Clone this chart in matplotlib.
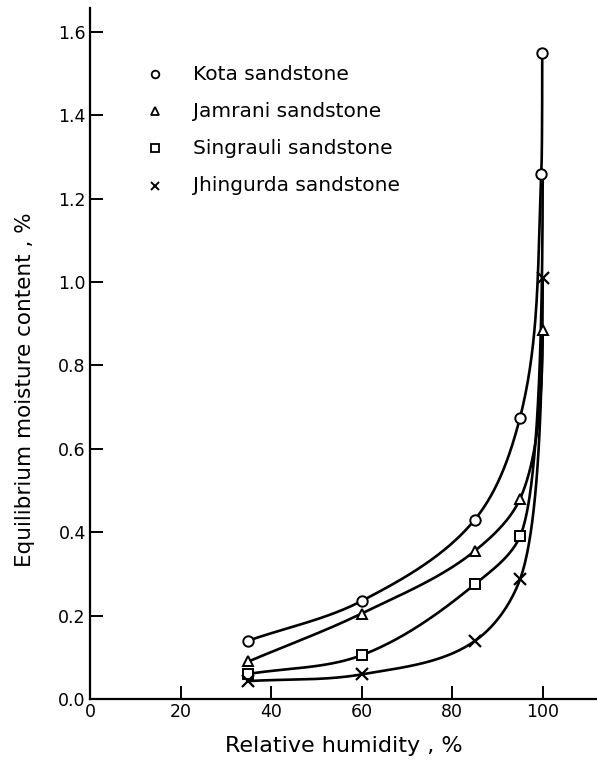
"""
Equilibrium moisture content vs relative humidity for four sandstones.
"""
import numpy as np
import matplotlib
matplotlib.use("Agg")
import matplotlib.pyplot as plt

# measured points (relative humidity %, EMC %)
kota_rh = [35, 60, 85, 95, 99.7, 99.9]
kota_emc = [0.14, 0.235, 0.43, 0.675, 1.26, 1.55]

jamrani_rh = [35, 60, 85, 95, 100]
jamrani_emc = [0.09, 0.205, 0.355, 0.48, 0.885]

singrauli_rh = [35, 60, 85, 95]
singrauli_emc = [0.06, 0.105, 0.275, 0.39]
# the singrauli curve runs on up the 100 % line without a marker
singrauli_end = (100, 1.26)

jhingurda_rh = [35, 60, 85, 95, 100]
jhingurda_emc = [0.043, 0.059, 0.139, 0.287, 1.01]

names = ["Kota sandstone", "Jamrani sandstone",
         "Singrauli sandstone", "Jhingurda sandstone"]
markers = ["o", "^", "s", "x"]

x_ticks = [0, 20, 40, 60, 80, 100]
y_ticks = [0.0, 0.2, 0.4, 0.6, 0.8, 1.0, 1.2, 1.4, 1.6]

XMAX, YMAX = 112, 1.657
W, H = 597, 762
PX, PY = 507 / XMAX, 691 / YMAX      # data -> pixel scale of the axes


def smooth(rh, emc, n=60):
    """Hand-drawn style curve: cubic Hermite pieces in pixel proportions,
    the last piece a quadratic that meets the saturation line vertically."""
    p = np.column_stack([np.asarray(rh, float) * PX,
                         np.asarray(emc, float) * PY])
    seg = np.diff(p, axis=0)
    ln = np.hypot(seg[:, 0], seg[:, 1])
    u = seg / ln[:, None]
    tang = np.zeros_like(p)
    tang[0] = u[0]
    for i in range(1, len(p) - 1):
        b = u[i - 1] + u[i]
        tang[i] = b / np.hypot(*b)
    tang[-1] = [0.0, 1.0]
    t = np.linspace(0, 1, n)[:, None]
    out = [p[:1]]
    for i in range(len(p) - 2):
        h00 = 2 * t**3 - 3 * t**2 + 1
        h10 = t**3 - 2 * t**2 + t
        h01 = -2 * t**3 + 3 * t**2
        h11 = t**3 - t**2
        c = (h00 * p[i] + h10 * ln[i] * tang[i]
             + h01 * p[i + 1] + h11 * ln[i] * tang[i + 1])
        out.append(c[1:])
    # last piece: control point where the incoming tangent hits x = x_end
    p0, p1, d0 = p[-2], p[-1], tang[-2]
    if d0[0] > 1e-9:
        cy = p0[1] + (p1[0] - p0[0]) * d0[1] / d0[0]
    else:
        cy = p0[1]
    ctrl = np.array([p1[0], np.clip(cy, p0[1], p1[1])])
    q = (1 - t) ** 2 * p0 + 2 * (1 - t) * t * ctrl + t ** 2 * p1
    out.append(q[1:])
    c = np.vstack(out)
    return c[:, 0] / PX, c[:, 1] / PY


plt.rcParams["font.family"] = ["DejaVu Sans"]
fig = plt.figure(figsize=(5.97, 7.62), dpi=100)
ax = fig.add_axes([90 / W, 1 - 699 / H, 1 - 90 / W, (699 - 8) / H])

series = [
    (kota_rh, kota_emc, kota_rh, kota_emc),
    (jamrani_rh, jamrani_emc, jamrani_rh, jamrani_emc),
    (singrauli_rh + [singrauli_end[0]], singrauli_emc + [singrauli_end[1]],
     singrauli_rh, singrauli_emc),
    (jhingurda_rh, jhingurda_emc, jhingurda_rh, jhingurda_emc),
]

for (crh, cemc, prh, pemc), mk in zip(series, markers):
    r, e = smooth(crh, cemc)
    ax.plot(r, e, color="black", lw=1.9, zorder=2, solid_capstyle="round")
    if mk == "x":
        ax.plot(prh, pemc, ls="none", marker="x", ms=8, mew=1.6,
                color="black", zorder=3)
    else:
        ax.plot(prh, pemc, ls="none", marker=mk,
                ms=7.5 if mk != "s" else 7, mew=1.4,
                mec="black", mfc="white", zorder=3)

# legend drawn by hand at its place in the upper left
for k, (name, mk) in enumerate(zip(names, markers)):
    yp = 1 - (74 + 37.2 * k) / H
    if mk == "x":
        fig.lines.append(plt.Line2D([155 / W], [yp], ls="none", marker="x",
                                    ms=6, mew=1.4, color="black",
                                    transform=fig.transFigure))
    else:
        fig.lines.append(plt.Line2D([155 / W], [yp], ls="none", marker=mk,
                                    ms=5.5, mew=1.3, mec="black", mfc="white",
                                    transform=fig.transFigure))
    fig.text(193 / W, yp, name, fontsize=14.5, va="center", ha="left")

ax.set_xlim(0, XMAX)
ax.set_ylim(0, YMAX)
ax.set_xticks(x_ticks)
ax.set_yticks(y_ticks)
ax.set_yticklabels([f"{v:.1f}" for v in y_ticks])
ax.tick_params(direction="in", length=9.5, width=1.4, labelsize=12.5, pad=3)
for side in ("top", "right"):
    ax.spines[side].set_visible(False)
for side in ("left", "bottom"):
    ax.spines[side].set_linewidth(1.6)

ax.set_xlabel("Relative humidity , %", fontsize=16, labelpad=11)
fig.text(25 / W, 1 - 390 / H, "Equilibrium moisture content , %",
         rotation=90, fontsize=15.5, ha="center", va="center")

fig.savefig("out.png", dpi=100)
